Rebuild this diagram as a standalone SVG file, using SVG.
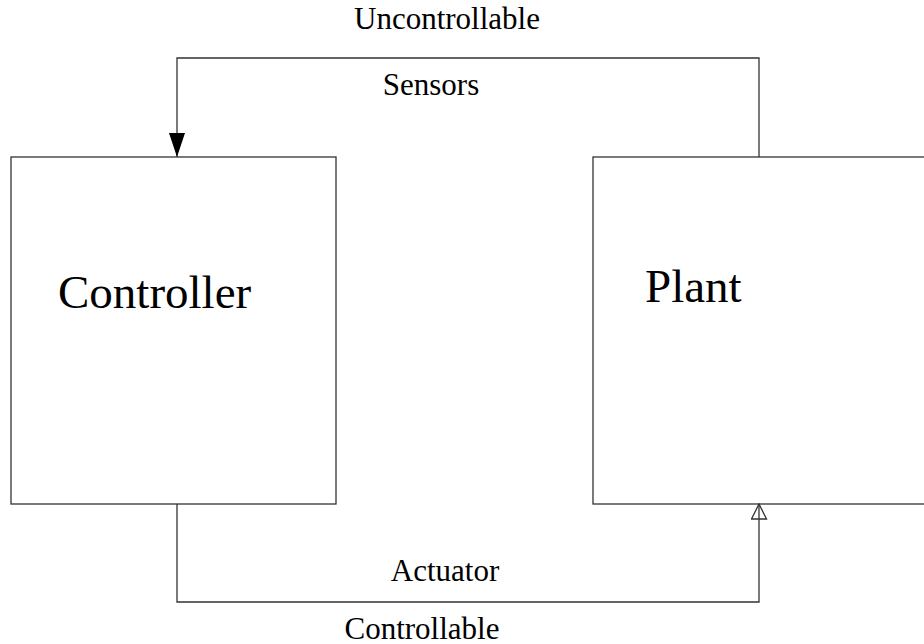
<svg xmlns="http://www.w3.org/2000/svg" width="924" height="644" viewBox="0 0 924 644">
<style>
.box{fill:#fff;stroke:#333;stroke-width:1.3}
.conn{fill:none;stroke:#333;stroke-width:1.3}
.big{font-family:"Liberation Serif","Times New Roman",serif;font-size:47px;fill:#000}
.lbl{font-family:"Liberation Serif","Times New Roman",serif;font-size:31px;fill:#000;text-anchor:middle}
</style>
<defs>
<marker id="filled" markerUnits="userSpaceOnUse" viewBox="0 0 24 16" refX="24" refY="8" markerWidth="24" markerHeight="16" orient="auto">
<path d="M0,0 L24,8 L0,16 z" fill="#000"/>
</marker>
<marker id="open" markerUnits="userSpaceOnUse" viewBox="-1 -1 17 17" refX="15" refY="7.5" markerWidth="17" markerHeight="17" orient="auto">
<path d="M0,0 L15,7.5 L0,15 z" fill="none" stroke="#333" stroke-width="1.3"/>
</marker>
</defs>
<g id="controller">
<rect class="box" x="11" y="157" width="325" height="347"/>
<text class="big" x="58" y="308">Controller</text>
</g>
<g id="plant">
<rect class="box" x="593" y="157" width="340" height="347"/>
<text class="big" x="645" y="302">Plant</text>
</g>
<g id="connectors">
<path class="conn" d="M759,157 V58 H177 V157" marker-end="url(#filled)"/>
<path class="conn" d="M177,504 V602 H759 V504" marker-end="url(#open)"/>
<text class="lbl" x="447" y="29">Uncontrollable</text>
<text class="lbl" x="431" y="95">Sensors</text>
<text class="lbl" x="445" y="581">Actuator</text>
<text class="lbl" x="422" y="639">Controllable</text>
</g>
</svg>
